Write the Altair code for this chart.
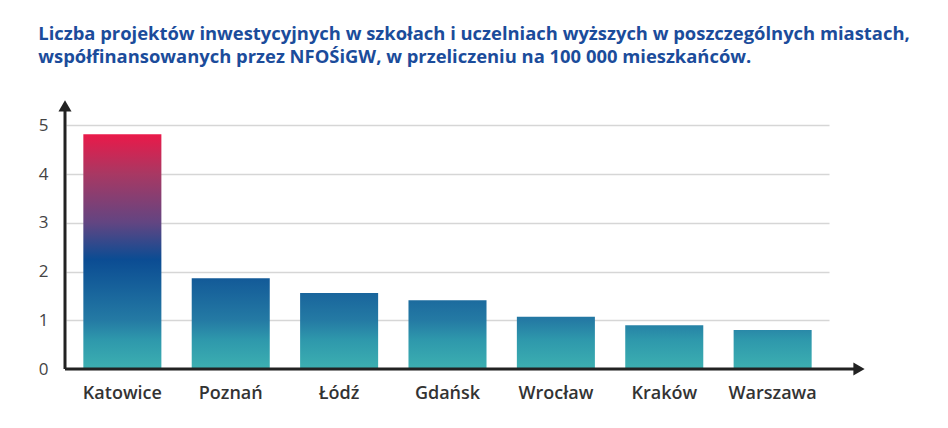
import altair as alt
import pandas as pd

cities = ["Katowice", "Poznań", "Łódź", "Gdańsk", "Wrocław", "Kraków", "Warszawa"]
values = [4.82, 1.86, 1.56, 1.41, 1.07, 0.90, 0.80]
y_ticks = [0, 1, 2, 3, 4, 5]

title_lines = [
    "Liczba projektów inwestycyjnych w szkołach i uczelniach wyższych w poszczególnych miastach,",
    "współfinansowanych przez NFOŚiGW, w przeliczeniu na 100 000 mieszkańców.",
]

# colour ramp anchored to the value axis (value -> colour)
ramp = [
    (0.0, (0x3D, 0xB0, 0xB1)),
    (0.6, (0x2E, 0x98, 0xAC)),
    (1.0, (0x24, 0x7A, 0xA4)),
    (2.25, (0x0B, 0x4C, 0x93)),
    (3.0, (0x62, 0x45, 0x82)),
    (4.0, (0xA8, 0x38, 0x63)),
    (4.85, (0xEC, 0x18, 0x48)),
]


def col_at(v):
    for (a, ca), (b, cb) in zip(ramp[:-1], ramp[1:]):
        if v <= b:
            t = (v - a) / (b - a)
            c = [round(ca[i] + (cb[i] - ca[i]) * t) for i in range(3)]
            return "#%02x%02x%02x" % tuple(c)
    return "#%02x%02x%02x" % ramp[-1][1]


def gradient_for(h):
    stops = [{"offset": 0, "color": col_at(0)}]
    for v, _ in ramp[1:]:
        if v < h:
            stops.append({"offset": v / h, "color": col_at(v)})
    stops.append({"offset": 1, "color": col_at(h)})
    return {"gradient": "linear", "x1": 0, "y1": 1, "x2": 0, "y2": 0, "stops": stops}


df = pd.DataFrame({"city": cities, "value": values})

xscale = alt.Scale(domain=cities, paddingInner=0.28, paddingOuter=0.16)
yscale = alt.Scale(domain=[0, 5.5])

base = alt.Chart(df)

xenc = alt.X(
    "city:N",
    scale=xscale,
    sort=cities,
    title=None,
    axis=alt.Axis(
        labelAngle=0,
        ticks=False,
        domain=False,
        grid=False,
        labelPadding=15,
        labelFontSize=18,
        labelFont="Open Sans",
        labelFontWeight=600,
        labelColor="#333333",
    ),
)
yenc = alt.Y(
    "value:Q",
    scale=yscale,
    title=None,
    axis=alt.Axis(
        values=y_ticks,
        ticks=False,
        domain=False,
        grid=True,
        labelPadding=18,
        labelFontSize=17,
        labelFont="Open Sans",
        labelColor="#444444",
        gridColor="#D6D6D6",
        gridWidth=1.5,
    ),
)

layers = []
for c, v in zip(cities, values):
    layers.append(
        base.transform_filter(alt.datum.city == c)
        .mark_bar(color=gradient_for(v))
        .encode(x=xenc, y=yenc)
    )

axis_df = pd.DataFrame({"v": [0]})
ax = alt.Chart(axis_df)
x_line = ax.mark_rule(color="#222222", strokeWidth=3).encode(
    x=alt.value(-1), x2=alt.value(792), y=alt.datum(0, scale=yscale)
)
x_head = ax.mark_point(shape="triangle-right", filled=True, size=170, color="#222222", opacity=1).encode(
    x=alt.value(793), y=alt.datum(0, scale=yscale)
)
y_line = ax.mark_rule(color="#222222", strokeWidth=3).encode(
    x=alt.value(-1), y=alt.datum(0, scale=yscale), y2=alt.datum(5.35)
)
y_head = ax.mark_point(shape="triangle-up", filled=True, size=170, color="#222222", opacity=1).encode(
    x=alt.value(-1), y=alt.datum(5.4, scale=yscale)
)

chart = (
    alt.layer(*layers, x_line, x_head, y_line, y_head)
    .properties(
        width=763,
        height=268,
        padding={"left": 30, "top": 16, "right": 10, "bottom": 10},
        title=alt.TitleParams(
            text=title_lines,
            anchor="start",
            font="Open Sans",
            fontSize=18.4,
            fontWeight="bold",
            color="#1B4C9B",
            lineHeight=23,
            offset=34,
        ),
    )
    .configure_view(stroke=None)
)

chart.save("out.html", embed_options={"renderer": "svg", "actions": False})
